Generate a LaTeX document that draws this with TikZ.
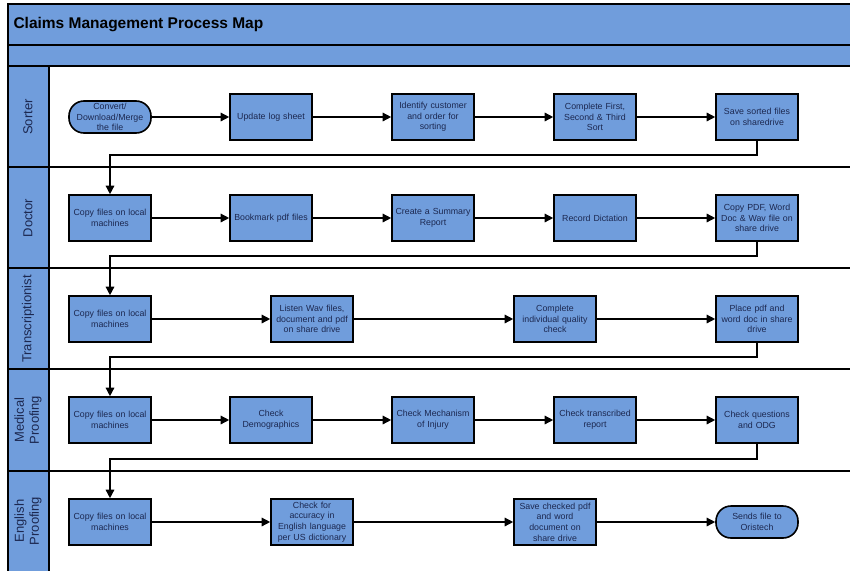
\documentclass[tikz,border=0pt]{standalone}
\usepackage{fontspec}
\setmainfont{Liberation Sans}
\usetikzlibrary{arrows.meta}
\definecolor{cmblue}{RGB}{112,157,220}
\definecolor{cmtext}{RGB}{28,40,80}
\begin{document}
\begin{tikzpicture}[x=1pt,y=1pt,
  procbox/.style={draw=black, line width=1.6pt, fill=cmblue, minimum width=82pt, minimum height=46pt, text width=79pt, align=center, inner sep=0pt, font=\fontsize{8.8}{10.6}\selectfont, text=cmtext},
  termbox/.style={procbox, rounded corners=15pt, minimum height=32pt},
  flow/.style={line width=1.4pt, -{Triangle[length=8.5pt,width=8.5pt]}},
  lanetext/.style={rotate=90, font=\fontsize{13}{15}\selectfont, text=cmtext, align=center},
  laneline/.style={line width=1.6pt}]
\useasboundingbox (0,0) rectangle (850,-570);
\clip (0,0) rectangle (850,-570);
\fill[white] (0,0) rectangle (850,-570);
% bands
\draw[laneline, fill=cmblue] (8,-4) rectangle (870,-45);
\draw[laneline, fill=cmblue] (8,-45) rectangle (870,-66);
\draw[laneline, fill=cmblue] (8,-66) rectangle (49,-590);
\draw[laneline] (8,-167) -- (870,-167);
\draw[laneline] (8,-268) -- (870,-268);
\draw[laneline] (8,-369) -- (870,-369);
\draw[laneline] (8,-471) -- (870,-471);
\node[anchor=west, font=\fontsize{15.5}{18}\selectfont\bfseries, text=black] (title) at (10,-25) {Claims Management Process Map};
% lane labels
\node[lanetext] (l1) at (28,-117) {Sorter};
\node[lanetext] (l2) at (28,-218) {Doctor};
\node[lanetext] (l3) at (28,-319) {Transcriptionist};
\node[lanetext] (l4) at (28,-420) {Medical\\Proofing};
\node[lanetext] (l5) at (28,-521) {English\\Proofing};
% Sorter
\node[termbox] (s1) at (110,-117) {Convert/\\Download/Merge\\the file};
\node[procbox] (s2) at (271,-117) {Update log sheet};
\node[procbox] (s3) at (433,-117) {Identify customer\\and order for\\sorting};
\node[procbox] (s4) at (595,-117) {Complete First,\\Second \& Third\\Sort};
\node[procbox] (s5) at (757,-117) {Save sorted files\\on sharedrive};
% Doctor
\node[procbox] (d1) at (110,-218) {Copy files on local\\machines};
\node[procbox] (d2) at (271,-218) {Bookmark pdf files};
\node[procbox] (d3) at (433,-218) {Create a Summary\\Report};
\node[procbox] (d4) at (595,-218) {Record Dictation};
\node[procbox] (d5) at (757,-218) {Copy PDF, Word\\Doc \& Wav file on\\share drive};
% Transcriptionist
\node[procbox] (t1) at (110,-319) {Copy files on local\\machines};
\node[procbox] (t2) at (312,-319) {Listen Wav files,\\document and pdf\\on share drive};
\node[procbox] (t3) at (555,-319) {Complete\\individual quality\\check};
\node[procbox] (t4) at (757,-319) {Place pdf and\\word doc in share\\drive};
% Medical Proofing
\node[procbox] (m1) at (110,-420) {Copy files on local\\machines};
\node[procbox] (m2) at (271,-420) {Check\\Demographics};
\node[procbox] (m3) at (433,-420) {Check Mechanism\\of Injury};
\node[procbox] (m4) at (595,-420) {Check transcribed\\report};
\node[procbox] (m5) at (757,-420) {Check questions\\and ODG};
% English Proofing
\node[procbox] (e1) at (110,-522) {Copy files on local\\machines};
\node[procbox] (e2) at (312,-522) {Check for\\accuracy in\\English language\\per US dictionary};
\node[procbox] (e3) at (555,-522) {Save checked pdf\\and word\\document on\\share drive};
\node[termbox] (e4) at (757,-522) {Sends file to\\Oristech};
% flows within lanes
\draw[flow] (s1) -- (s2); \draw[flow] (s2) -- (s3); \draw[flow] (s3) -- (s4); \draw[flow] (s4) -- (s5);
\draw[flow] (d1) -- (d2); \draw[flow] (d2) -- (d3); \draw[flow] (d3) -- (d4); \draw[flow] (d4) -- (d5);
\draw[flow] (t1) -- (t2); \draw[flow] (t2) -- (t3); \draw[flow] (t3) -- (t4);
\draw[flow] (m1) -- (m2); \draw[flow] (m2) -- (m3); \draw[flow] (m3) -- (m4); \draw[flow] (m4) -- (m5);
\draw[flow] (e1) -- (e2); \draw[flow] (e2) -- (e3); \draw[flow] (e3) -- (e4);
% lane to lane
\draw[flow] (s5.south) -- (s5.south |- 0,-155) -| (d1.north);
\draw[flow] (d5.south) -- (d5.south |- 0,-256) -| (t1.north);
\draw[flow] (t4.south) -- (t4.south |- 0,-357) -| (m1.north);
\draw[flow] (m5.south) -- (m5.south |- 0,-459) -| (e1.north);
\end{tikzpicture}
\end{document}
